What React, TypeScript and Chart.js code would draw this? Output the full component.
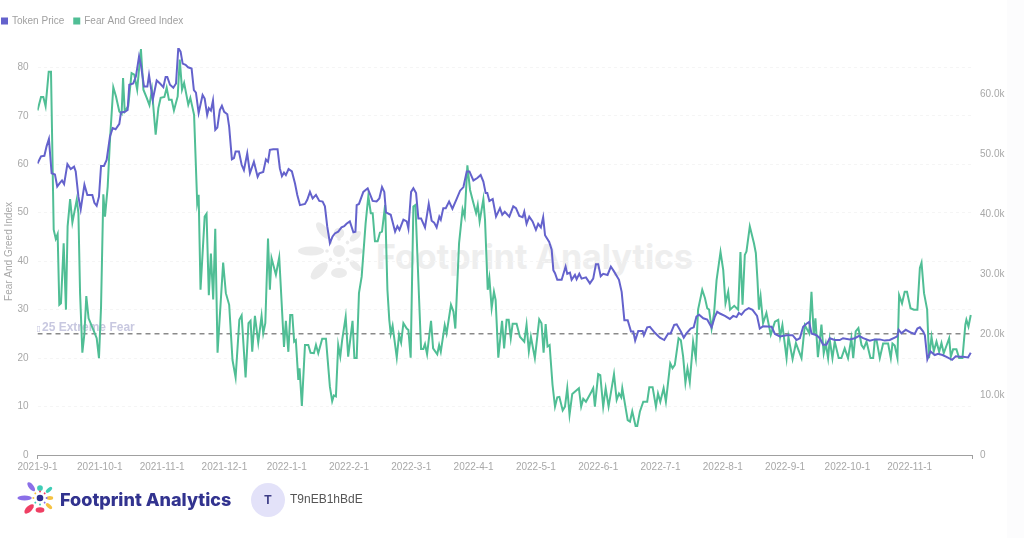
import { useEffect, useRef } from 'react';
import { Chart, registerables } from 'chart.js';

Chart.register(...registerables);

// x axis runs in 30 "day" months, evenly spaced like the source chart
const monthLabels = [
  '2021-9-1', '2021-10-1', '2021-11-1', '2021-12-1', '2022-1-1', '2022-2-1', '2022-3-1', '2022-4-1',
  '2022-5-1', '2022-6-1', '2022-7-1', '2022-8-1', '2022-9-1', '2022-10-1', '2022-11-1',
];

const priceDays = [
  0, 1.7, 3.3, 4.4, 5.5, 6.8, 8.4, 9.5, 10.8, 11.8, 12.8, 14.4, 16, 17.6, 18.4, 19.7, 20.8, 22.6, 24, 26.4, 27.4, 28.5, 29.6, 30.6, 32, 33.3, 34.9, 36.2, 37.6, 39.4,
  40.2, 42.1, 43.4, 44.2, 46.1, 47.4, 48.9, 49.8, 51.3, 52.9, 53.7, 55.5, 57.4, 59, 60.6, 61.7, 62.5, 63.8, 65.4, 66.7, 67.8, 68.9, 69.9, 71.3, 72.5, 74.2, 75.3, 76.3, 77.6,
  79.5, 80.5, 81.7, 82.5, 83.5, 84.5, 85.6, 86.6, 87.8, 88.8, 89.9, 91.4, 92.3, 93.6, 94.6, 95.4, 97, 98.3, 99.4, 101, 102.3, 104.2, 106, 106.8, 108.7, 110, 111, 111.9, 113.5, 115.6,
  116.7, 117.7, 118.7, 119.6, 120.9, 122.5, 124, 125.1, 126.4, 128.8, 129.9, 131.2, 132.5, 134.1, 135.7, 137.3, 138.4, 139.5, 140.8, 142.1, 143.2, 144.8, 146.4, 147.7, 148.8, 150.4,
  152.1, 153.1, 153.7, 154.8, 156.9, 159, 161.4, 163.3, 164.6, 165.9, 167, 167.8, 170.1, 172.2, 173.3, 174.3, 176.2, 177.8, 178.6, 179.9, 181, 182.3, 183.4, 184.7, 186.6, 188.4, 189.8, 191, 192.2,
  193.5, 194.2, 195.4, 196.6, 198.2, 199.8, 201.9, 203.5, 205.1, 206.7, 208, 209.9, 211.8, 213.4, 214.7, 215.8, 216.6, 217.6, 219.2, 220.8, 222.7, 223.8, 225, 227.2, 229.1, 230.4,
  232, 233.6, 234.4, 235.5, 236.8, 238.4, 240, 241.1, 242.4, 243.5, 244.4, 246.4, 247.6, 248.4, 249.2, 250.3, 252.4, 254.3, 255.1, 256.4, 257.2, 258.8, 259.6, 260.9, 262, 264.1, 266, 267.6, 268.9, 270,
  271.2, 272.4, 274.5, 276.1, 277.6, 280, 281.3, 282.6, 284.2, 285.8, 286.9, 287.8, 289.3, 291.4, 292, 293.6, 294.9, 297.3, 299.7, 301.8, 303.7, 304.9, 306.6, 307.8, 309.8,
  311.2, 312.5, 314.5, 316, 317.3, 318.6, 320.6, 322.5, 324.6, 326.2, 327.3, 328.6, 331, 333.4, 335, 336.6, 337.7, 339, 340.6, 342.5, 344.3, 346.5, 347.8, 349.4, 353.5, 355.1, 357.5, 360.7, 363.6, 365.5, 367.1, 368.7, 370.3, 371.6, 372.7, 375.1,
  376.7, 378.3, 379.9, 381.5, 383.9, 386.3, 387.9, 391.1, 393.6, 395.6, 397.6, 400.8, 403.2, 405.6, 408, 410.4, 412.8, 414, 414.7, 416, 418.1, 420.8, 422.4, 423.7, 424.9, 426.5, 427.3, 428.5, 430, 432.1, 433.7, 435.8, 437.7, 440.4, 442.2, 444.1, 445.7, 448.1, 449.4,
];

// token price in thousands
const priceValues = [
  48.4, 49.6, 49.7, 51.3, 52.5, 46.8, 46.6, 44.6, 45.2, 45.6, 45, 48.3, 47.5, 47.9, 47.1, 42.9, 40.8, 44.9, 43.2, 43.2, 41.9, 41.4, 42.9, 48, 48, 49, 52.9, 54.3, 54.1, 55,
  56.9, 57, 57.3, 61.5, 61.7, 62.9, 66.2, 64.8, 61.2, 61.2, 63.1, 59, 62.2, 61.7, 61.1, 62.8, 62.8, 61.5, 61, 61.7, 67.6, 67, 65, 64.8, 64.4, 64.2, 60.6, 60.2, 56.8,
  59.8, 59.2, 56.5, 57.6, 57.2, 58.9, 54, 54.4, 57.3, 58, 57, 56.6, 54.5, 49.1, 49.3, 50.4, 50.4, 48.2, 47.3, 50.1, 46.8, 48.7, 46.2, 46.8, 47, 49.1, 48.7, 50.7, 50.8, 50.8,
  47.6, 46.3, 46.9, 46.5, 47.5, 47.1, 45.1, 43.2, 41.5, 41.7, 42.4, 43.7, 42.6, 43.2, 42.2, 42.1, 41.3, 38, 35.2, 36.3, 36.8, 37.1, 37.8, 38, 38.4, 38.8,
  37, 37.1, 41.5, 41.7, 43.7, 44.3, 42.2, 42.1, 42.6, 44.5, 43.7, 40.3, 39.9, 37.1, 38, 37.4, 39.1, 38.8, 37.6, 43.7, 44.3, 43.5, 39.3, 39.3, 37.8, 41.7, 38.9, 38.6, 37.8,
  39.6, 39.1, 41, 41, 42.1, 40.9, 42.6, 43.9, 44.5, 47.1, 47.1, 45.6, 46, 46.5, 45.4, 43.5, 43.5, 42.2, 42.5, 39.6, 41, 39.9, 40.4, 39.6, 41.3, 41,
  39.7, 39.5, 40.4, 38.4, 39.6, 38.8, 37.4, 38.4, 37.8, 39.5, 36.5, 35.4, 34.1, 30.7, 30.2, 29.1, 29.1, 31.3, 30.1, 30.3, 29.1, 29.9, 29.2, 30.1, 29.3, 29.5, 28.5, 29.3, 31.7, 31.7,
  29.7, 30.1, 29.9, 31.3, 30.5, 29.1, 27.1, 22.4, 22.4, 20.5, 20.5, 19, 20.6, 20.6, 19.9, 21.2, 21.3, 20.3, 19.5, 19.1, 20.2, 20.2, 21.6, 21.7, 20.5,
  19.5, 20.2, 21, 21.2, 23, 23.3, 22.7, 22.5, 21.2, 23, 23.8, 23.5, 23.1, 22.6, 23.1, 22.9, 23.6, 23.3, 24, 24.4, 24.1, 23.1, 21, 21.4, 21.3, 20.1, 19.7, 19.9, 19.9, 19.1, 19.4, 21.3, 21.8, 22.1, 20.2, 19.9,
  19.4, 18.3, 18.3, 19.4, 19.1, 19.1, 19.4, 19.2, 19.4, 19.8, 19.4, 19, 19.2, 19.2, 19, 19.1, 19.5, 19.7, 20.8, 20.2, 20.8, 20.3, 20.1, 21, 21.2, 20.5, 19.9, 15.9, 17.2, 16.6, 16.8, 16.6, 16.3, 15.8, 16.4, 16.3, 16.3, 16.2, 17,
];

const fearDays = [
  0, 1.7, 2.8, 3.9, 5.4, 6.5, 7.8, 8.8, 9.7, 10.5, 11.3, 12.6, 13.7, 14.5, 15.7, 16.8, 18.9, 19.7, 20.5, 21.6, 22.6, 23.5, 24.6, 26.9, 28.5, 29.6, 30.6, 31.7, 32.5, 33.8,
  34.9, 36.5, 37.8, 39.4, 40.5, 41.2, 42, 43.7, 45.3, 46.6, 48, 49.8, 51, 52.6, 53.9, 55.1, 56.9, 58.2, 59.3, 61.1, 62.2, 63.3, 64.6, 65.7, 67.5, 68.5, 69.6, 70.6, 72.6, 73.6, 75.4, 76.9, 77.6,
  78.5, 80.5, 81.4, 82.5, 83.5, 84.6, 85.6, 86.7, 89.4, 90.7, 92.3, 93.9, 95.4, 97.2, 98.3, 100.2, 101.6, 102.6, 103.4, 104.7, 106.3, 107.9, 108.7, 109.7, 111, 111.9, 112.7, 114.8, 116.4, 118.7, 119.6, 120.8,
  121.7, 122.7, 123.6, 124.4, 125.6, 126.2, 127.3, 128.8, 130.4, 131.5, 133.1, 134.1, 135.2, 137.1, 138.9, 140.8, 141.9, 142.7, 143.7, 144.8, 145.8, 146.7, 148.4, 149.6, 151.7,
  152.6, 153.7, 154.8, 156.1, 158, 159.3, 160.5, 161.4, 162.5, 163.8, 164.9, 165.9, 167.4, 168.5, 169.4, 170.1, 171, 173, 174.1, 175.1, 176.2, 177.8, 178.6, 179.7, 181, 182, 183.7, 184.7, 185.8, 186.6, 187.6,
  189.5, 190.5, 192.5, 193.4, 194.2, 196.1, 197, 199.1, 200.3, 201.2, 203, 204.7, 205.7, 207, 208.3, 209.9, 211.2, 212, 212.9, 214.7, 215.5, 216.8, 217.6, 218.7, 219.8, 220.6, 221.9, 223.7, 224.7, 225.9, 226.9, 227.9,
  228.8, 230.7, 232.3, 234.4, 235.5, 236.6, 237.6, 239.5, 241.6, 242.7, 243.7, 244.7, 245.6, 246.6, 248, 249.2, 250.3, 251.3, 252.9, 254, 255.1, 256.2, 257.5, 260.7, 261.8, 262.8, 264.1, 266.8, 267.6, 268.4, 270, 271,
  272.4, 273.6, 275, 277.6, 278.9, 280, 281.1, 281.6, 284.2, 285.3, 286.4, 288, 288.8, 290.1, 291.7, 293.6, 294.6, 296.2, 297.8, 298.8, 299.9, 301.5, 302.6, 304.7, 305.8, 306.9, 308.7, 309.8,
  310.9, 312, 313, 314.1, 315.7, 317, 318.1, 320.1, 321.4, 322.5, 323.4, 324.6, 325.8, 327, 328.9, 330.2, 331.3, 332.6, 333.5, 335.5, 337.4, 338.5, 339.5, 340.6, 341.4, 343, 345, 345.9, 346.7, 347.4, 348.2, 349.4, 351, 353.1, 355.1, 356.7, 357.6, 358.7, 360.7, 361.6, 363.6, 365.2, 367.9, 369.5, 371.6, 372.7, 373.8, 374.6, 375.8,
  377.5, 378.6, 379.6, 380.7, 381.5, 382.8, 383.9, 385.8, 387.1, 388.7, 390.3, 391.9, 392.8, 394, 395.3, 396.8, 397.9, 399.2, 401.1, 402.4, 403.2, 404, 405.6, 407.2, 409.6, 410.9, 411.7, 412.8, 414.1, 414.9, 416.3, 417.6, 418.7, 420.4, 422, 423.7, 424.9, 425.7, 426.9, 428.4, 429.3, 430.5, 431.6, 432.9, 434.2, 435.3, 436.4, 439, 439.8, 440.9, 442.5, 443.8, 445.4, 446.8, 447.3, 448.3, 449.4,
];

const fearValues = [
  71.1, 73.9, 73.9, 72, 79.1, 79.1, 46.5, 44.6, 45.6, 31, 31.3, 43.7, 30, 47.2, 52.8, 48, 52.7, 49.9, 33.4, 21.1, 25.1, 32.8, 28.2, 25.8, 24.1, 20, 30.6, 53.8, 49.2, 55.4,
  65, 75.9, 74, 70.9, 70.4, 77.8, 70.9, 72, 78.8, 78.5, 75.4, 83.8, 75.4, 73.7, 72.2, 75.4, 66.1, 71.6, 73.7, 73.9, 75.8, 73.3, 73.3, 71.1, 74, 81.6, 75.4, 76.8, 72.3, 73.7, 70.2, 52, 53.7,
  34.1, 49.2, 49.8, 33, 41.6, 32.1, 46.7, 21.1, 39.7, 33.4, 31, 19.6, 16, 27.9, 28.8, 16, 27.2, 27.7, 21.3, 28.7, 23.2, 28.7, 25.1, 27.2, 44.7, 34.1, 40.6, 37.2, 40.8, 22.3, 27.7, 21.3,
  28.9, 28.9, 23.4, 23.7, 15.5, 17.9, 10.1, 22.7, 22.7, 21.1, 21, 22.7, 21, 24, 24, 14.1, 11.1, 12.3, 12.1, 22.7, 20.3, 23.7, 28.5, 20.3, 27.7,
  20, 20, 33.4, 36.8, 47.8, 53.4, 49.9, 49.9, 44.1, 44.1, 45.9, 46.1, 51.6, 34.1, 27.9, 25, 26.7, 20.1, 24.8, 23.2, 27.2, 26.1, 25.8, 20.1, 51.3, 51.6, 32.7, 21.9, 21.9, 22.9, 20.8,
  27.7, 22, 20.8, 22.7, 21.3, 26.8, 25.1, 31, 29.6, 26.1, 43.7, 50.7, 49.2, 59.8, 54.7, 52, 49.9, 51.6, 48.2, 52.8, 48.5, 34.1, 36.5, 30.3, 33.7, 32, 20.1, 27.7, 22, 27.9, 27.9, 24.1,
  27.1, 27.1, 24.4, 23.4, 26.9, 21.4, 24.4, 20, 28, 27.2, 21.1, 27, 22.4, 22.7, 14.5, 10, 11.9, 12, 9.2, 10, 13.8, 8.3, 12.6, 13.8, 10, 11.6, 11, 13.1, 13.8, 10, 16.7, 16.5,
  10, 13.8, 10, 16.7, 11.4, 12.7, 11.9, 13.8, 7.2, 6.9, 9, 6, 6, 9, 11, 11, 14, 14, 10, 12.7, 11, 13.8, 11, 18.9, 17.9, 18.6, 24.1, 23.7,
  20.3, 14.9, 17.9, 15, 23.4, 20, 30, 34.1, 32.4, 30.3, 30, 26.1, 29.3, 36.1, 41.9, 38.2, 31.3, 33.7, 30, 30.8, 30, 41.9, 31, 41.3, 42, 47.2, 43.7, 41.7, 36.1, 30, 32.7, 27.2, 29.3, 24.8, 27.5, 27.9, 24.4, 26.8, 20, 24.4, 19.8, 23.1, 20, 26.8, 25.1, 33.7, 24.8, 28.2, 20.2,
  26.9, 21, 23, 20, 23.8, 20, 23.4, 20, 20, 22, 20, 24.1, 20, 25.5, 26.2, 22.7, 22, 23.4, 20, 20, 23.8, 23.8, 20, 23, 23, 20, 23, 22.6, 20, 33, 31.3, 33.7, 33.7, 30.3, 30, 30, 38.6, 39.7, 33.4, 30, 20, 24.4, 21.4, 23.4, 21.3, 23.1, 21, 24.1, 20.3, 21.8, 21.8, 20, 20, 26.9, 27.9, 26.5, 28.9,
];

const fearThreshold = 25;
const thresholdGlyph = '\u25AF'; // the source prints a missing-glyph box before the label
const thresholdLabel = '25 Extreme Fear';

const PRICE_COLOR = '#6462cc';
const FEAR_COLOR = '#50be95';
const TICK_COLOR = '#a8a8a8';

// canvas sits 8px left of the page so the legend starts at the page edge
const CANVAS_LEFT = -8;

const thresholdText = {
  id: 'thresholdText',
  beforeDatasetsDraw(chart: Chart) {
    const { ctx, chartArea, scales } = chart;
    const y = scales.yFear.getPixelForValue(fearThreshold) - 3;
    ctx.save();
    ctx.fillStyle = '#c8c8e0';
    ctx.textBaseline = 'alphabetic';
    ctx.font = '8px "DejaVu Sans"';
    ctx.fillText(thresholdGlyph, chartArea.left - 1, y);
    ctx.font = 'bold 12px "Liberation Sans"';
    ctx.fillText(thresholdLabel, chartArea.left + 4.5, y);
    ctx.restore();
  },
};

const legendGap = {
  id: 'legendGap',
  beforeInit(chart: any) {
    const fit = chart.legend.fit;
    chart.legend.fit = function () {
      fit.call(this);
      this.height += 12;
    };
  },
};

function Flower({ size, colors, dot }: { size: number; colors: string[]; dot: string }) {
  // [angle, distance, rx, ry, colour index]
  const petals = [
    [180, 14, 6.5, 2.3, 0], [-128, 13, 5, 2.2, 0], [-90, 9, 2.6, 2.6, 1], [-42, 11, 3.5, 1.7, 1],
    [0, 9, 3, 1.8, 2], [42, 11, 3.5, 1.7, 2], [90, 11, 2.5, 4, 3], [135, 14, 5.5, 2.6, 3],
  ];
  const dots = [0, 45, 90, 135, 180, 225, 270, 315];
  return (
    <svg width={size} height={size} viewBox="-20 -20 40 40" style={{ display: 'block', overflow: 'visible' }}>
      {petals.map(([a, d, rx, ry, c], i) => (
        <ellipse key={i} cx={d} cy={0} rx={rx} ry={ry} fill={colors[c]} transform={`rotate(${a})`} />
      ))}
      {dots.map((a) => (
        <circle key={a} cx={6} cy={0} r={0.9} fill={colors[Math.floor(a / 90)]} transform={`rotate(${a})`} />
      ))}
      <circle r={3} fill={dot} />
    </svg>
  );
}

export default function App() {
  const canvasRef = useRef<HTMLCanvasElement>(null);

  useEffect(() => {
    if (!canvasRef.current) return;

    const chart = new Chart(canvasRef.current, {
      type: 'line',
      data: {
        datasets: [
          {
            label: 'Token Price',
            data: priceDays.map((x, i) => ({ x, y: priceValues[i] })),
            yAxisID: 'yPrice',
            borderColor: PRICE_COLOR,
            backgroundColor: PRICE_COLOR,
            borderWidth: 2,
            pointRadius: 0,
            order: 0,
          },
          {
            label: 'Fear And Greed Index',
            data: fearDays.map((x, i) => ({ x, y: fearValues[i] })),
            yAxisID: 'yFear',
            borderColor: FEAR_COLOR,
            backgroundColor: FEAR_COLOR,
            borderWidth: 2,
            pointRadius: 0,
            order: 1,
          },
          {
            label: 'threshold',
            data: [{ x: 0, y: fearThreshold }, { x: 450, y: fearThreshold }],
            yAxisID: 'yFear',
            borderColor: '#8a8a8a',
            borderWidth: 1.5,
            borderDash: [5, 4],
            pointRadius: 0,
            order: 2,
          },
        ],
      },
      options: {
        animation: false,
        responsive: true,
        maintainAspectRatio: false,
        layout: { padding: { top: 6 } },
        plugins: {
          legend: {
            position: 'top',
            align: 'start',
            labels: {
              boxWidth: 5,
              boxHeight: 5,
              padding: 10,
              color: '#a0a0a0',
              font: { family: '"Liberation Sans"', size: 10 },
              filter: (item) => item.text !== 'threshold',
            },
          },
          tooltip: { enabled: false },
        },
        scales: {
          x: {
            type: 'linear',
            min: 0,
            max: 450,
            afterFit: (scale) => { scale.height = 83; },
            border: { color: '#a0a0a0' },
            grid: {
              drawOnChartArea: false,
              tickLength: 4,
              tickColor: (ctx) => (ctx.tick && (ctx.tick.value === 0 || ctx.tick.value === 450) ? '#a0a0a0' : 'transparent'),
            },
            ticks: {
              stepSize: 30,
              autoSkip: false,
              maxRotation: 0,
              padding: 2,
              color: TICK_COLOR,
              font: { family: '"Liberation Sans"', size: 10 },
              callback: (v) => monthLabels[(v as number) / 30] ?? '',
            },
          },
          yFear: {
            position: 'left',
            min: 0,
            max: 84,
            afterFit: (scale) => { scale.width = 45.5; },
            title: {
              display: true,
              text: 'Fear And Greed Index',
              color: TICK_COLOR,
              padding: { top: 11, bottom: 0 },
              font: { family: '"Liberation Sans"', size: 10 },
            },
            border: { display: false, dash: [3, 3] },
            grid: { color: '#f5f5f5', drawTicks: false },
            ticks: {
              stepSize: 10,
              includeBounds: false,
              padding: 9,
              color: TICK_COLOR,
              font: { family: '"Liberation Sans"', size: 10 },
            },
          },
          yPrice: {
            position: 'right',
            min: 0,
            max: 67.6,
            afterFit: (scale) => { scale.width = 52; },
            border: { display: false },
            grid: { drawOnChartArea: false, drawTicks: false },
            ticks: {
              stepSize: 10,
              includeBounds: false,
              padding: 8,
              color: TICK_COLOR,
              font: { family: '"Liberation Sans"', size: 10 },
              callback: (v) => (v === 0 ? '0' : `${(v as number).toFixed(1)}k`),
            },
          },
        },
      },
      plugins: [thresholdText, legendGap],
    });

    return () => chart.destroy();
  }, []);

  return (
    <div style={{ position: 'absolute', left: 0, top: 0, width: 1024, height: 538, background: '#fff', overflow: 'hidden' }}>
      {/* watermark sits under the chart */}
      <div style={{ position: 'absolute', left: 299, top: 211 }}>
        <Flower size={80} colors={['#ebebeb', '#ebebeb', '#ebebeb', '#ebebeb']} dot="#ebebeb" />
      </div>
      <div style={{ position: 'absolute', left: 376, top: 236, font: '700 34px Inter', color: '#eeeeee', whiteSpace: 'nowrap' }}>
        Footprint Analytics
      </div>
      <div style={{ position: 'absolute', left: CANVAS_LEFT, top: 0, width: 1024 - CANVAS_LEFT, height: 538 }}>
        <canvas ref={canvasRef} />
      </div>
      <div style={{ position: 'absolute', left: 1007, top: 0, width: 17, height: 538, background: '#fcfcfd' }} />
      {/* footer */}
      <div style={{ position: 'absolute', left: 18, top: 476 }}>
        <Flower size={44} colors={['#8b6fe8', '#3fcdb6', '#f5c242', '#ef3f63']} dot="#2e2f92" />
      </div>
      <div style={{ position: 'absolute', left: 60, top: 489, font: '800 18px Inter', color: '#32338f', whiteSpace: 'nowrap' }}>
        Footprint Analytics
      </div>
      <div
        style={{
          position: 'absolute', left: 251, top: 483, width: 34, height: 34, borderRadius: '50%', background: '#e3e2f9',
          display: 'flex', alignItems: 'center', justifyContent: 'center', font: 'bold 12px "Liberation Sans"', color: '#3d3d86',
        }}
      >
        T
      </div>
      <div style={{ position: 'absolute', left: 290, top: 492, font: '12px "Liberation Sans"', color: '#555', whiteSpace: 'nowrap' }}>
        T9nEB1hBdE
      </div>
    </div>
  );
}
